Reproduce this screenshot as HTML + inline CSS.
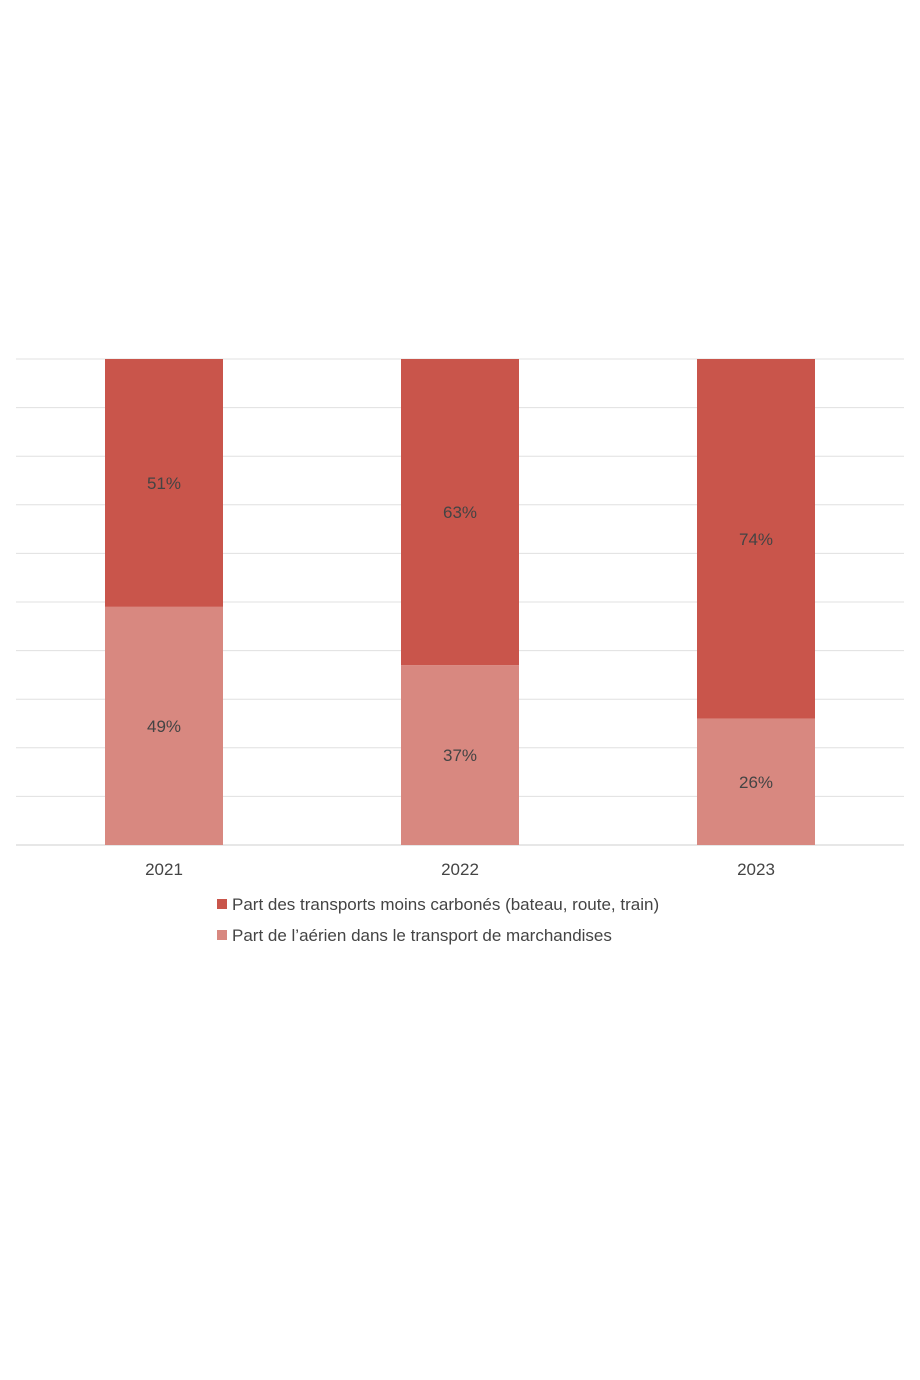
<!DOCTYPE html>
<html><head><meta charset="utf-8"><style>
html,body{margin:0;padding:0;background:#fff;}
svg{display:block;font-family:"Liberation Sans",sans-serif;}
</style></head><body>
<svg id="chart" width="920" height="1380" viewBox="0 0 920 1380">
<g id="grid"></g>
<g id="bars"></g>
<g id="xlabels"></g>
<g>
  <g>
    <rect x="217" y="899" width="10" height="10" fill="#c9554b"/>
    <text x="232" y="910" font-size="17" fill="#444">Part des transports moins carbonés (bateau, route, train)</text>
  </g>
  <g>
    <rect x="217" y="930" width="10" height="10" fill="#d88880"/>
    <text x="232" y="941" font-size="17" fill="#444">Part de l’aérien dans le transport de marchandises</text>
  </g>
</g>
</svg>
<script>
const categories = ["2021","2022","2023"];
const airShare = [49,37,26];
const lowCarbonShare = [51,63,74];
const gridTicks = [0,10,20,30,40,50,60,70,80,90,100];

const NS="http://www.w3.org/2000/svg";
const plotL=16, plotR=904, plotT=359, plotB=845;
const y=v=>plotB-(v/100)*(plotB-plotT);
const band=(plotR-plotL)/categories.length;
const xc=i=>plotL+band*(i+0.5);
const barW=118;
function mk(tag,attrs,parent){const e=document.createElementNS(NS,tag);for(const k in attrs)e.setAttribute(k,attrs[k]);parent.appendChild(e);return e;}
const grid=document.getElementById('grid'),bars=document.getElementById('bars'),xl=document.getElementById('xlabels');
gridTicks.forEach(t=>{
  const l=mk('line',{x1:plotL,x2:plotR,y1:y(t),y2:y(t),stroke:t===0?'#cfcfcf':'#e0e0e0','stroke-width':1},grid);
  
  
});
categories.forEach((c,i)=>{
  const x0=xc(i)-barW/2;
  const a=airShare[i], b=lowCarbonShare[i];
  const r1=mk('rect',{x:x0,y:y(a),width:barW,height:y(0)-y(a),fill:'#d88880'},bars);
  
  
  const r2=mk('rect',{x:x0,y:y(a+b),width:barW,height:y(a)-y(a+b),fill:'#c9554b'},bars);
  
  
  const t1=mk('text',{x:xc(i),y:(y(0)+y(a))/2+6,'text-anchor':'middle','font-size':17,fill:'#444'},bars);
  t1.textContent=a+'%';
  
  
  const t2=mk('text',{x:xc(i),y:(y(a)+y(a+b))/2+6,'text-anchor':'middle','font-size':17,fill:'#444'},bars);
  t2.textContent=b+'%';
  
  
  const lx=mk('text',{x:xc(i),y:875,'text-anchor':'middle','font-size':17,fill:'#444'},xl);
  lx.textContent=c;
  
  
});
</script>
</body></html>
